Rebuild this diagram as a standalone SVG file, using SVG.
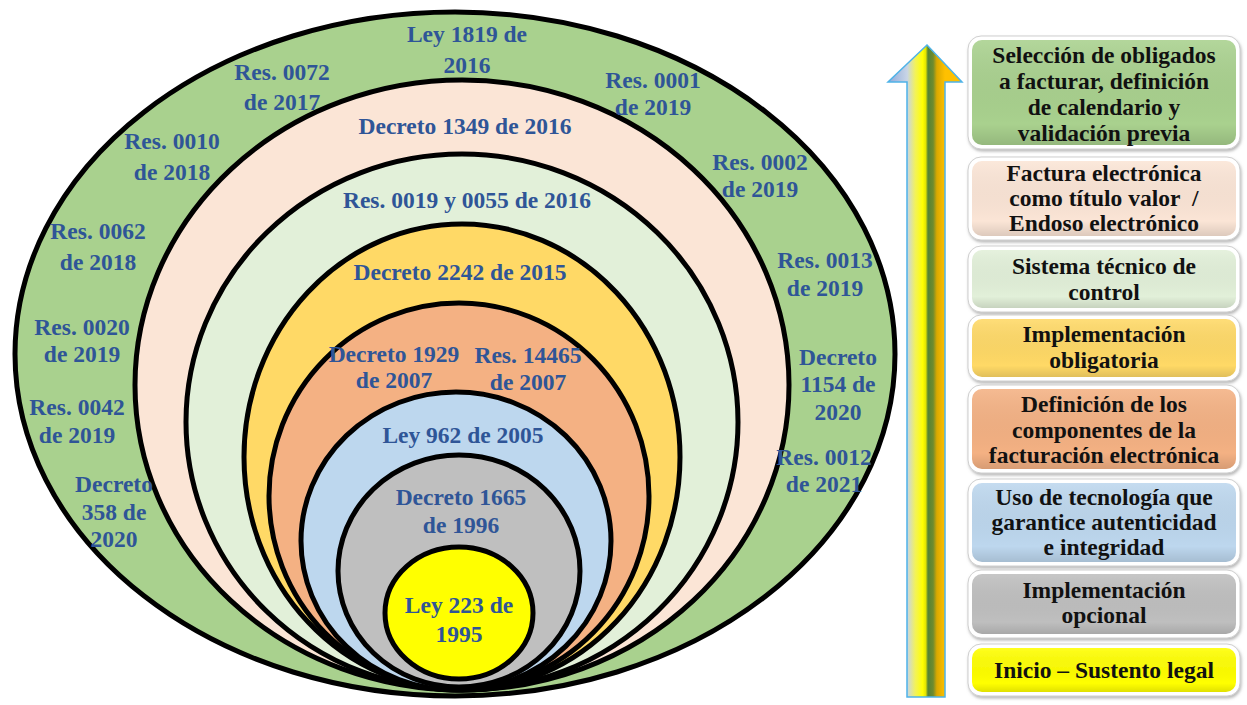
<svg xmlns="http://www.w3.org/2000/svg" width="1247" height="705" viewBox="0 0 1247 705">
<defs>
<style>
.ring{stroke:#000;stroke-width:5}
.lt{font-family:"Liberation Serif","Times New Roman",serif;font-weight:bold;font-size:23.5px;fill:#2F5597;text-anchor:middle}
.bt{font-family:"Liberation Serif","Times New Roman",serif;font-weight:bold;font-size:23.5px;fill:#111;text-anchor:middle}
.frame{fill:#fff;stroke:#cfcfcf;stroke-width:1}
</style>
<linearGradient id="arrowGrad" gradientUnits="userSpaceOnUse" x1="888" y1="0" x2="962" y2="0">
<stop offset="0" stop-color="#8EA9DB"/>
<stop offset="0.26" stop-color="#C9D5E6"/>
<stop offset="0.37" stop-color="#F2F25A"/>
<stop offset="0.47" stop-color="#FFFF00"/>
<stop offset="0.51" stop-color="#E4E400"/>
<stop offset="0.54" stop-color="#548235"/>
<stop offset="0.61" stop-color="#6E8B2E"/>
<stop offset="0.66" stop-color="#D9A800"/>
<stop offset="0.77" stop-color="#FFC000"/>
<stop offset="1" stop-color="#FFC000"/>
</linearGradient>
<linearGradient id="shade" x1="0" y1="0" x2="0" y2="1">
<stop offset="0" stop-color="#fff" stop-opacity="0.12"/>
<stop offset="0.8" stop-color="#000" stop-opacity="0"/>
<stop offset="1" stop-color="#000" stop-opacity="0.12"/>
</linearGradient>
<filter id="sh" x="-10%" y="-20%" width="120%" height="150%">
<feDropShadow dx="1" dy="2" stdDeviation="1.5" flood-color="#888" flood-opacity="0.6"/>
</filter>
</defs>
<rect width="1247" height="705" fill="#fff"/>

<g id="rings">
<g id="ring-outer"><ellipse class="ring" cx="455" cy="354" rx="440" ry="342" fill="#A9D18E"/></g>
<g id="ring-peach"><ellipse class="ring" cx="462" cy="385" rx="327" ry="305" fill="#FBE5D6"/></g>
<g id="ring-lightgreen"><ellipse class="ring" cx="462" cy="422" rx="276" ry="268" fill="#E2F0D9"/></g>
<g id="ring-yellow"><ellipse class="ring" cx="462" cy="457" rx="218" ry="233" fill="#FFD966"/></g>
<g id="ring-salmon"><ellipse class="ring" cx="459" cy="496" rx="190" ry="193" fill="#F4B183"/></g>
<g id="ring-blue"><ellipse class="ring" cx="456" cy="541" rx="155" ry="149" fill="#BDD7EE"/></g>
<g id="ring-gray"><ellipse class="ring" cx="459" cy="571" rx="121" ry="116" fill="#BFBFBF"/></g>
<g id="ring-core"><ellipse class="ring" cx="459" cy="613" rx="74" ry="66" fill="#FFFF00"/></g>
</g>

<g id="ring-labels">
<text class="lt" x="467" y="42">Ley 1819 de</text>
<text class="lt" x="467" y="73">2016</text>
<text class="lt" x="282" y="80">Res. 0072</text>
<text class="lt" x="282" y="110">de 2017</text>
<text class="lt" x="653" y="88">Res. 0001</text>
<text class="lt" x="653" y="115">de 2019</text>
<text class="lt" x="465" y="134">Decreto 1349 de 2016</text>
<text class="lt" x="172" y="149">Res. 0010</text>
<text class="lt" x="172" y="180">de 2018</text>
<text class="lt" x="760" y="170">Res. 0002</text>
<text class="lt" x="760" y="197">de 2019</text>
<text class="lt" x="467" y="208">Res. 0019 y 0055 de 2016</text>
<text class="lt" x="98" y="239">Res. 0062</text>
<text class="lt" x="98" y="270">de 2018</text>
<text class="lt" x="460" y="280">Decreto 2242 de 2015</text>
<text class="lt" x="825" y="268">Res. 0013</text>
<text class="lt" x="825" y="296">de 2019</text>
<text class="lt" x="82" y="335">Res. 0020</text>
<text class="lt" x="82" y="362">de 2019</text>
<text class="lt" x="394" y="362">Decreto 1929</text>
<text class="lt" x="394" y="388">de 2007</text>
<text class="lt" x="528" y="363">Res. 14465</text>
<text class="lt" x="528" y="390">de 2007</text>
<text class="lt" x="838" y="365">Decreto</text>
<text class="lt" x="838" y="392">1154 de</text>
<text class="lt" x="838" y="420">2020</text>
<text class="lt" x="77" y="415">Res. 0042</text>
<text class="lt" x="77" y="443">de 2019</text>
<text class="lt" x="463" y="443">Ley 962 de 2005</text>
<text class="lt" x="824" y="465">Res. 0012</text>
<text class="lt" x="824" y="492">de 2021</text>
<text class="lt" x="114" y="492">Decreto</text>
<text class="lt" x="114" y="520">358 de</text>
<text class="lt" x="114" y="547">2020</text>
<text class="lt" x="461" y="505">Decreto 1665</text>
<text class="lt" x="461" y="533">de 1996</text>
<text class="lt" x="459" y="613">Ley 223 de</text>
<text class="lt" x="459" y="642">1995</text>
</g>

<g id="arrow">
<path d="M927,45 L962,82 L945,82 L945,697 L907,697 L907,82 L888,82 Z" fill="url(#arrowGrad)" stroke="#4FB3E8" stroke-width="1.5" stroke-linejoin="miter"/>
</g>

<g id="box1" filter="url(#sh)">
<rect class="frame" x="968" y="36" width="272" height="113" rx="13"/>
<rect x="972" y="40" width="264" height="105" rx="10" fill="#A9D18E"/>
<rect x="972" y="40" width="264" height="105" rx="10" fill="url(#shade)"/>
</g>
<g id="box1-text">
<text class="bt" x="1104" y="63">Selección de obligados</text>
<text class="bt" x="1104" y="89">a facturar, definición</text>
<text class="bt" x="1104" y="115">de calendario y</text>
<text class="bt" x="1104" y="141">validación previa</text>
</g>

<g id="box2" filter="url(#sh)">
<rect class="frame" x="968" y="157" width="272" height="83" rx="13"/>
<rect x="972" y="161" width="264" height="75" rx="10" fill="#FBE5D6"/>
<rect x="972" y="161" width="264" height="75" rx="10" fill="url(#shade)"/>
</g>
<g id="box2-text">
<text class="bt" x="1104" y="181">Factura electrónica</text>
<text class="bt" x="1104" y="206">como título valor&#160; /</text>
<text class="bt" x="1104" y="231">Endoso electrónico</text>
</g>

<g id="box3" filter="url(#sh)">
<rect class="frame" x="968" y="246" width="272" height="66" rx="13"/>
<rect x="972" y="250" width="264" height="58" rx="10" fill="#E2F0D9"/>
<rect x="972" y="250" width="264" height="58" rx="10" fill="url(#shade)"/>
</g>
<g id="box3-text">
<text class="bt" x="1104" y="274">Sistema técnico de</text>
<text class="bt" x="1104" y="300">control</text>
</g>

<g id="box4" filter="url(#sh)">
<rect class="frame" x="968" y="315" width="272" height="66" rx="13"/>
<rect x="972" y="319" width="264" height="58" rx="10" fill="#FFD966"/>
<rect x="972" y="319" width="264" height="58" rx="10" fill="url(#shade)"/>
</g>
<g id="box4-text">
<text class="bt" x="1104" y="342">Implementación</text>
<text class="bt" x="1104" y="368">obligatoria</text>
</g>

<g id="box5" filter="url(#sh)">
<rect class="frame" x="968" y="385" width="272" height="88" rx="13"/>
<rect x="972" y="389" width="264" height="80" rx="10" fill="#F4B183"/>
<rect x="972" y="389" width="264" height="80" rx="10" fill="url(#shade)"/>
</g>
<g id="box5-text">
<text class="bt" x="1104" y="412">Definición de los</text>
<text class="bt" x="1104" y="438">componentes de la</text>
<text class="bt" x="1104" y="463">facturación electrónica</text>
</g>

<g id="box6" filter="url(#sh)">
<rect class="frame" x="968" y="479" width="272" height="87" rx="13"/>
<rect x="972" y="483" width="264" height="79" rx="10" fill="#BDD7EE"/>
<rect x="972" y="483" width="264" height="79" rx="10" fill="url(#shade)"/>
</g>
<g id="box6-text">
<text class="bt" x="1104" y="505">Uso de tecnología que</text>
<text class="bt" x="1104" y="530">garantice autenticidad</text>
<text class="bt" x="1104" y="555">e integridad</text>
</g>

<g id="box7" filter="url(#sh)">
<rect class="frame" x="968" y="570" width="272" height="68" rx="13"/>
<rect x="972" y="574" width="264" height="60" rx="10" fill="#BFBFBF"/>
<rect x="972" y="574" width="264" height="60" rx="10" fill="url(#shade)"/>
</g>
<g id="box7-text">
<text class="bt" x="1104" y="598">Implementación</text>
<text class="bt" x="1104" y="623">opcional</text>
</g>

<g id="box8" filter="url(#sh)">
<rect class="frame" x="968" y="644" width="272" height="52" rx="13"/>
<rect x="972" y="648" width="264" height="44" rx="10" fill="#FFFF00"/>
<rect x="972" y="648" width="264" height="44" rx="10" fill="url(#shade)"/>
</g>
<g id="box8-text">
<text class="bt" x="1104" y="678">Inicio – Sustento legal</text>
</g>

<g id="connectors"></g>
</svg>
